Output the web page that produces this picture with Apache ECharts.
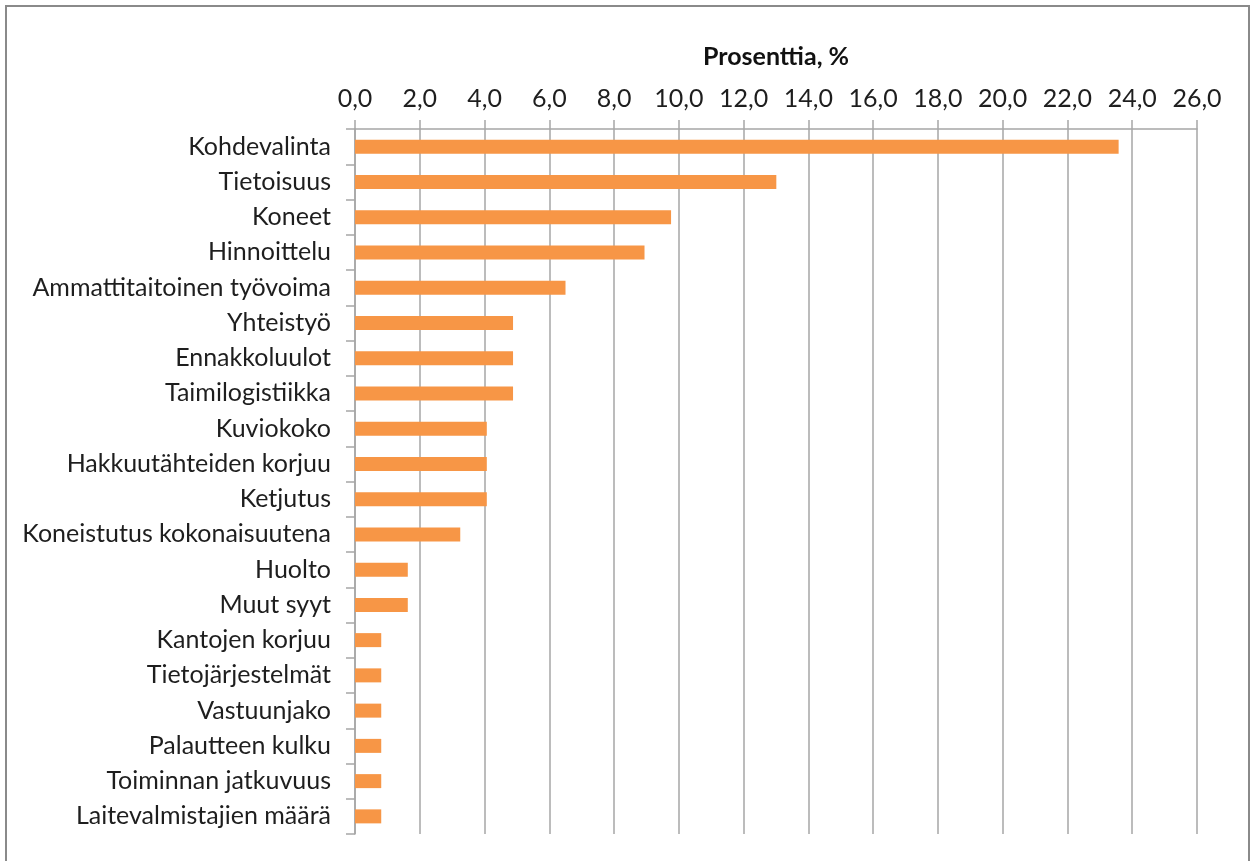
<!DOCTYPE html>
<html>
<head>
<meta charset="utf-8">
<script src="https://cdn.jsdelivr.net/npm/echarts@6/dist/echarts.min.js"></script>
<style>
  html, body { margin: 0; padding: 0; background: #ffffff; }
  #chart { width: 1256px; height: 861px; }
</style>
</head>
<body>
<div id="chart"></div>
<script>
// Syyt, prosenttiosuus vastauksista
const categories = [
  'Kohdevalinta', 'Tietoisuus', 'Koneet', 'Hinnoittelu',
  'Ammattitaitoinen työvoima', 'Yhteistyö', 'Ennakkoluulot',
  'Taimilogistiikka', 'Kuviokoko', 'Hakkuutähteiden korjuu', 'Ketjutus',
  'Koneistutus kokonaisuutena', 'Huolto', 'Muut syyt', 'Kantojen korjuu',
  'Tietojärjestelmät', 'Vastuunjako', 'Palautteen kulku',
  'Toiminnan jatkuvuus', 'Laitevalmistajien määrä'
];
const percentages = [
  23.58, 13.01, 9.76, 8.94,
  6.50, 4.88, 4.88,
  4.88, 4.07, 4.07, 4.07,
  3.25, 1.63, 1.63, 0.81,
  0.81, 0.81, 0.81,
  0.81, 0.81
];
const axisTitle = 'Prosenttia, %';
const axisMax = 26;
const axisStep = 2;

const chart = echarts.init(document.getElementById('chart'), null, { renderer: 'canvas' });
const font = 'Lato, "Open Sans", sans-serif';

chart.setOption({
  backgroundColor: '#ffffff',
  animation: false,
  graphic: [{
    type: 'rect',
    shape: { x: 6, y: 6, width: 1243, height: 880 },
    style: { fill: 'none', stroke: '#8a8a8a', lineWidth: 2 },
    silent: true
  }],
  grid: { left: 355, right: 59, top: 129, bottom: 27, containLabel: false },
  xAxis: {
    type: 'value',
    position: 'top',
    min: 0,
    max: axisMax,
    interval: axisStep,
    name: axisTitle,
    nameLocation: 'middle',
    nameGap: 60,
    nameTextStyle: { fontFamily: font, fontSize: 25, fontWeight: 'bold', color: '#111' },
    axisLine: { show: true, lineStyle: { color: '#a6a6a6', width: 1.5 } },
    axisTick: { show: true, inside: false, length: 9, lineStyle: { color: '#a6a6a6', width: 1.5 } },
    splitLine: { show: true, lineStyle: { color: '#a6a6a6', width: 1.5 } },
    axisLabel: {
      margin: 18,
      fontFamily: font,
      fontSize: 25,
      color: '#1e1e1e',
      formatter: v => v.toFixed(1).replace('.', ',')
    }
  },
  yAxis: {
    type: 'category',
    inverse: true,
    data: categories,
    axisLine: { show: true, lineStyle: { color: '#a6a6a6', width: 1.5 } },
    axisTick: { show: true, inside: false, length: 9, lineStyle: { color: '#a6a6a6', width: 1.5 } },
    axisLabel: { margin: 24, fontFamily: font, fontSize: 25, color: '#1e1e1e' },
    splitLine: { show: false }
  },
  series: [{
    type: 'bar',
    data: percentages,
    barWidth: 14,
    itemStyle: { color: '#f79646' },
    silent: true
  }]
});
</script>
</body>
</html>
